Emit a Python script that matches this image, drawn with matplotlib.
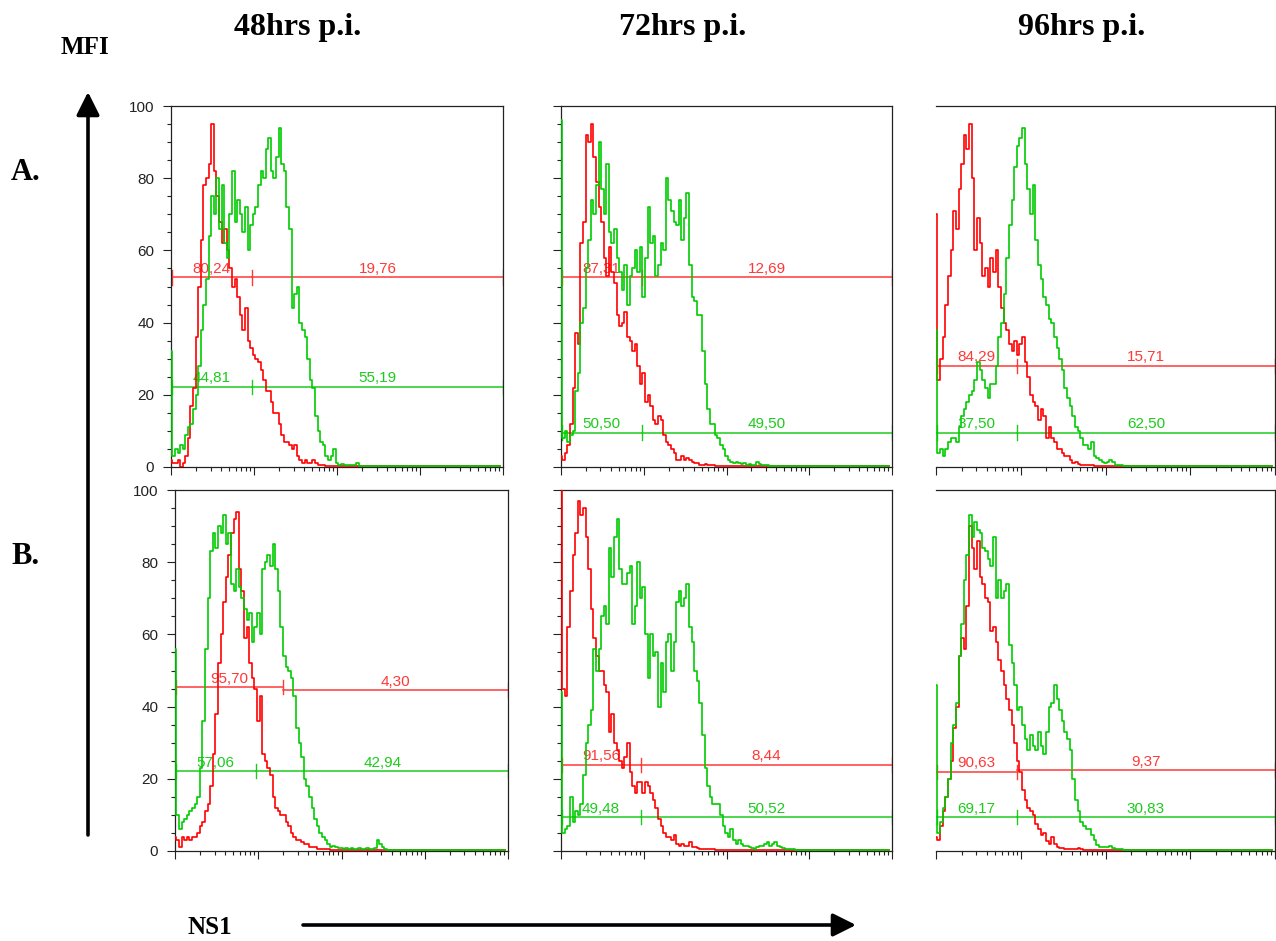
import numpy as np
import matplotlib
matplotlib.use("Agg")
import matplotlib.pyplot as plt
from matplotlib.patches import FancyArrowPatch
from matplotlib.ticker import LogLocator, MultipleLocator, NullFormatter

W, H = 1276, 941
CH_PER_DECADE = 32
N_CH = 4 * CH_PER_DECADE

RED = '#ff0000'
GREEN = '#00cc00'
RED_GATE = '#ff3838'
GREEN_GATE = '#1ccc1c'

time_points = ['48hrs p.i.', '72hrs p.i.', '96hrs p.i.']
row_labels = ['A.', 'B.']

# histogram counts per channel (32 channels per decade, starting at 10^0)
a48_red = [2, 1, 1, 2, 0, 1, 3, 8, 17, 22, 36, 50, 63, 78, 80, 84, 95, 82, 75, 68,
           62, 66, 60, 55, 50, 52, 47, 42, 38, 44, 35, 33, 31, 30, 29, 27, 24, 21, 21, 18,
           15, 15, 12, 9, 7, 7, 6, 5, 6, 3, 2, 1, 2, 1, 1, 2, 1, 0.5, 0.5, 0.5, 0.3]
a48_green = [32, 3, 5, 4, 6, 5, 9, 11, 12, 16, 20, 28, 38, 45, 52, 64, 75, 70, 80, 66,
             78, 62, 58, 70, 82, 68, 74, 70, 65, 72, 60, 67, 70, 72, 78, 82, 80, 88, 91, 82,
             80, 86, 94, 84, 82, 72, 66, 44, 48, 50, 40, 38, 36, 30, 24, 22, 14, 10, 7, 6,
             3, 2, 3, 5, 1, 0.5, 0.8, 0.5, 0.5, 0.5, 0.5, 0.5, 1.2]
a72_red = [3, 2, 4, 6, 12, 22, 37, 34, 62, 68, 92, 90, 95, 86, 79, 72, 68, 58, 53, 61,
           54, 51, 42, 39, 40, 43, 36, 35, 32, 34, 28, 23, 26, 18, 20, 17, 13, 12, 14, 13,
           9, 7, 6, 5, 4, 2, 2, 3, 2, 2.5, 2, 1.5, 1, 1, 0.5, 0.5, 0.8, 0.5, 0.5, 0.5, 0.3]
a72_green = [96, 8, 10, 7, 9, 10, 21, 26, 40, 44, 55, 63, 74, 70, 78, 90, 77, 70, 84, 65,
             62, 66, 58, 54, 49, 56, 45, 53, 55, 60, 54, 61, 47, 58, 72, 62, 64, 53, 56, 62,
             60, 80, 74, 71, 68, 67, 74, 63, 69, 76, 56, 47, 46, 42, 42, 32, 23, 16, 12, 12,
             9, 8, 6, 5, 3, 2, 1.5, 1, 1.5, 1, 0.8, 1, 0.5, 0.8, 0.5, 0.5, 1.5, 0.8, 0.5, 0.5, 0.5]
a96_red = [70, 24, 30, 36, 45, 53, 60, 71, 66, 77, 84, 92, 88, 95, 80, 60, 69, 62, 53, 55,
           50, 58, 54, 60, 50, 44, 40, 38, 34, 32, 35, 31, 34, 36, 29, 25, 20, 18, 17, 13,
           16, 14, 8, 11, 8, 7, 5, 5, 4, 3, 3, 2, 1, 1.5, 0.8, 0.5, 0.5, 0.5, 0.5, 0.5, 0.3]
a96_green = [38, 4, 5, 3, 5, 7, 8, 8, 7, 11, 14, 16, 18, 20, 21, 24, 29, 27, 24, 22,
             19, 23, 23, 28, 36, 40, 48, 58, 67, 74, 83, 89, 91, 94, 84, 77, 70, 78, 63, 56,
             52, 47, 45, 41, 40, 36, 33, 30, 27, 22, 19, 17, 14, 11, 10, 8, 6, 6, 5, 7,
             3, 2.5, 2, 1.5, 1, 1.5, 2, 1.5, 0.5, 0.5, 0.5]
b48_red = [4, 3, 1, 4, 3, 4, 3, 4, 4, 5, 7, 8, 11, 13, 18, 27, 38, 52, 60, 69,
           76, 82, 88, 92, 94, 78, 72, 59, 62, 52, 48, 45, 36, 43, 27, 25, 23, 21, 15, 12,
           11, 10, 10, 8, 7, 5, 4, 3, 3, 2.5, 2, 2, 1.2, 1, 1, 0.5, 0.5, 0.5, 0.5, 0.5, 0.3]
b48_green = [56, 10, 6, 8, 9, 10, 11, 12, 13, 15, 23, 36, 56, 70, 83, 88, 84, 90, 88, 93,
             85, 88, 74, 72, 78, 73, 70, 67, 64, 66, 58, 62, 66, 60, 78, 80, 82, 79, 85, 78,
             72, 62, 54, 51, 50, 48, 43, 34, 30, 26, 20, 18, 15, 12, 9, 7, 5, 4, 3, 2,
             1.2, 1.5, 1, 0.8, 0.8, 0.5, 0.8, 0.5, 0.8, 0.5, 0.5, 0.8, 0.5, 0.5, 0.8, 0.5,
             0.5, 0.8, 3, 2, 1, 0.5]
b72_red = [100, 45, 43, 62, 72, 82, 88, 97, 93, 95, 87, 78, 67, 59, 54, 50, 50, 46, 44, 33,
           38, 30, 28, 25, 23, 26, 30, 22, 18, 16, 19, 19, 16, 19, 18, 16, 14, 12, 9, 7,
           5, 4, 4, 3, 4.5, 2, 1.5, 2, 1.5, 1.5, 2.5, 1, 1, 0.8, 0.5, 0.5, 0.5, 0.5, 0.5, 0.5, 0.3]
b72_green = [44, 5, 6, 7, 15, 8, 11, 10, 13, 21, 30, 35, 39, 56, 50, 56, 65, 68, 63, 84,
             76, 87, 92, 78, 74, 74, 77, 79, 63, 68, 80, 70, 73, 60, 48, 60, 54, 55, 40, 52,
             44, 58, 60, 50, 58, 69, 72, 68, 70, 74, 62, 58, 50, 47, 41, 32, 23, 18, 15, 13,
             13, 13, 10, 7, 5, 4, 6, 3, 2, 3, 2, 1.5, 1.5, 1, 0.8, 0.5, 1, 1.5, 1.5, 2,
             2.5, 1.5, 2, 2.5, 1.5, 1, 0.8, 0.5, 0.5, 0.5, 0.5]
b96_red = [4, 3, 7, 11, 15, 20, 25, 34, 40, 54, 59, 56, 68, 90, 84, 78, 86, 76, 74, 70,
           69, 61, 62, 58, 53, 50, 46, 42, 39, 35, 30, 25, 22, 17, 14, 12, 11, 10, 7.5, 6,
           4.5, 5, 2.8, 2, 4, 2, 1, 0.8, 0.8, 0.5, 0.5, 0.5, 0.5, 0.5, 0.8, 0.5, 0.3]
b96_green = [46, 5, 8, 12, 15, 20, 30, 35, 41, 54, 63, 75, 82, 93, 87, 91, 89, 88, 84, 83,
             81, 79, 87, 70, 75, 70, 72, 74, 57, 52, 46, 39, 40, 35, 31, 28, 32, 29, 28, 33,
             29, 27, 33, 40, 41, 46, 42, 39, 36, 33, 31, 28, 20, 14, 11, 8, 7, 6, 6, 4.5,
             3, 1.8, 1, 1, 1, 1.2, 1.5, 0.8, 0.5, 0.5, 0.5]

# gate markers: (level left of split, level right of split, split channel value)
red_gates = [(52.5, 52.5, 9.5), (52.5, 52.5, 9.5), (28.0, 28.0, 9.0),
             (45.4, 44.6, 20.0), (23.9, 23.9, 9.3), (21.9, 22.4, 9.0)]
green_gates = [(22.2, 22.2, 9.5), (9.5, 9.5, 9.5), (9.5, 9.5, 9.0),
               (22.1, 22.1, 9.5), (9.4, 9.4, 9.3), (9.4, 9.4, 9.0)]
red_pcts = [('80,24', '19,76'), ('87,31', '12,69'), ('84,29', '15,71'),
            ('95,70', '4,30'), ('91,56', '8,44'), ('90,63', '9,37')]
green_pcts = [('44,81', '55,19'), ('50,50', '49,50'), ('37,50', '62,50'),
              ('57,06', '42,94'), ('49,48', '50,52'), ('69,17', '30,83')]

reds = [a48_red, a72_red, a96_red, b48_red, b72_red, b96_red]
greens = [a48_green, a72_green, a96_green, b48_green, b72_green, b96_green]

# panel frames in pixels: left, top, right, bottom
frames = [(171, 106, 503, 467), (561, 106, 892, 467), (936, 106, 1275, 467),
          (175, 490, 508, 851), (561, 490, 892, 851), (936, 490, 1275, 851)]

SANS = 'Liberation Sans'
SERIF = 'Liberation Serif'


def channels(vals, floor=0.3):
    vals = np.asarray(vals, dtype=float)
    return np.r_[vals, np.full(N_CH - len(vals), floor)]


def draw_gate(ax, gate, labels, color):
    y_left, y_right, split = gate
    ax.plot([1, split], [y_left, y_left], color=color, lw=1.1, zorder=2)
    ax.plot([split, 1e4], [y_right, y_right], color=color, lw=1.1, zorder=2)
    for xv, yv in [(1.02, y_left), (split, y_left), (1e4, y_right)]:
        ax.plot([xv, xv], [yv - 2, yv + 2], color=color, lw=1.0, zorder=2)
    ax.text(np.sqrt(split), y_left + 0.4, labels[0], ha='center', va='bottom',
            color=color, fontsize=11, family=SANS, zorder=2)
    ax.text(np.sqrt(split * 1e4), y_right + 0.4, labels[1], ha='center', va='bottom',
            color=color, fontsize=11, family=SANS, zorder=2)


fig = plt.figure(figsize=(W / 100, H / 100), dpi=100)
x = 10 ** (np.arange(N_CH) / CH_PER_DECADE)

for i, (l, t, r, b) in enumerate(frames):
    col = i % 3
    ax = fig.add_axes([l / W, 1 - b / H, (r - l) / W, (b - t) / H])
    ax.set_xscale('log')
    ax.set_xlim(1, 1e4)
    ax.set_ylim(0, 100)

    draw_gate(ax, red_gates[i], red_pcts[i], RED_GATE)
    draw_gate(ax, green_gates[i], green_pcts[i], GREEN_GATE)
    ax.plot(x, channels(reds[i]), color=RED, lw=1.2, drawstyle='steps-mid', zorder=3)
    ax.plot(x, channels(greens[i]), color=GREEN, lw=1.2, drawstyle='steps-mid', zorder=4)

    ax.xaxis.set_major_locator(LogLocator(base=10))
    ax.xaxis.set_minor_locator(LogLocator(base=10, subs=range(2, 10)))
    ax.xaxis.set_major_formatter(NullFormatter())
    ax.xaxis.set_minor_formatter(NullFormatter())
    ax.yaxis.set_major_locator(MultipleLocator(20))
    ax.yaxis.set_minor_locator(MultipleLocator(5))
    ax.tick_params(axis='both', which='major', length=6, width=0.8, color='#222222')
    ax.tick_params(axis='both', which='minor', length=2.8, width=0.8, color='#222222')
    ax.tick_params(axis='y', which='both', labelleft=(col == 0), labelsize=11, pad=6)
    for lab in ax.get_yticklabels():
        lab.set_family(SANS)
        lab.set_color('#222222')
    for s in ax.spines.values():
        s.set_linewidth(0.9)
        s.set_color('#222222')
    if col == 2:
        ax.spines['left'].set_visible(False)
        ax.tick_params(axis='y', which='both', left=False)

for j, name in enumerate(time_points):
    fig.text([298, 683, 1082][j] / W, 1 - 28 / H, name, ha='center', va='center',
             fontsize=23, weight='bold', family=SERIF)

for j, name in enumerate(row_labels):
    fig.text(26 / W, 1 - [172, 556][j] / H, name, ha='center', va='center',
             fontsize=22, weight='bold', family=SERIF)

fig.text(85 / W, 1 - 47 / H, 'MFI', ha='center', va='center', fontsize=18,
         weight='bold', family=SERIF)
fig.text(210 / W, 1 - 927 / H, 'NS1', ha='center', va='center', fontsize=18,
         weight='bold', family=SERIF)

# axis direction arrows
for start, end in [((88, 835), (88, 92)), ((303, 925), (856, 925))]:
    arrow = FancyArrowPatch((start[0] / W, 1 - start[1] / H), (end[0] / W, 1 - end[1] / H),
                            transform=fig.transFigure, arrowstyle='-|>,head_length=0.7,head_width=0.35',
                            mutation_scale=20, lw=2.6, color='black', shrinkA=0, shrinkB=0)
    fig.add_artist(arrow)

fig.savefig('out.png', dpi=100)
